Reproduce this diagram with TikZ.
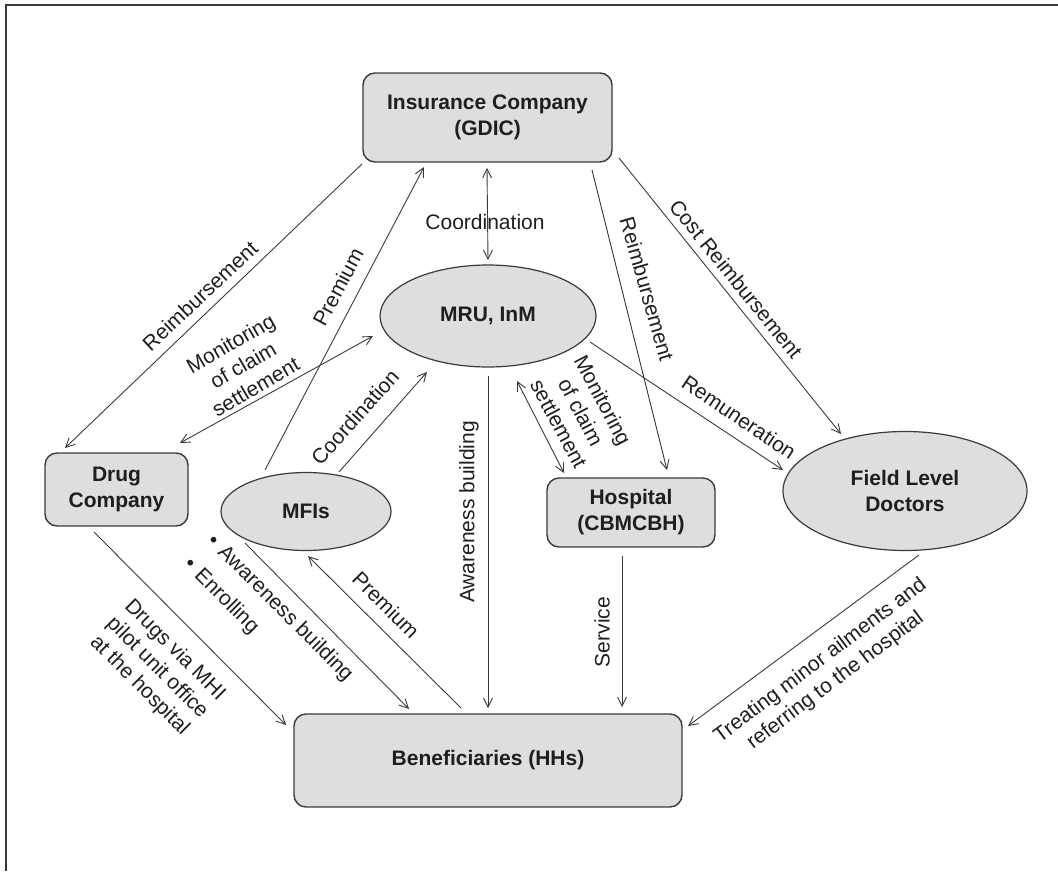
\documentclass[tikz,border=0pt]{standalone}
\usepackage{fontspec}
\setmainfont{Liberation Sans}
\usetikzlibrary{arrows.meta,shapes.geometric,calc}
\definecolor{boxfill}{HTML}{DDDEE0}
\definecolor{edge}{HTML}{3A3A3A}
\definecolor{ink}{HTML}{1E1E1E}
\tikzset{
  box/.style={draw=edge, line width=1.4pt, fill=boxfill, rounded corners=12pt, inner sep=0pt, align=center, text=ink, font=\fontsize{21}{26}\selectfont\bfseries},
  oval/.style={ellipse, draw=edge, line width=1.2pt, fill=boxfill, inner sep=0pt, align=center, text=ink, font=\fontsize{21}{26}\selectfont\bfseries},
  conn/.style={draw=edge, line width=0.9pt, -{Straight Barb[length=9pt,width=9pt]}},
  both/.style={draw=edge, line width=0.9pt, {Straight Barb[length=9pt,width=9pt]}-{Straight Barb[length=9pt,width=9pt]}},
  lbl/.style={align=center, inner sep=0pt, text=ink, font=\fontsize{21}{25}\selectfont},
  frame/.style={draw=edge, line width=2pt}
}
\begin{document}
\begin{tikzpicture}[x=1pt, y=-1pt]
\useasboundingbox (0,0) rectangle (1058,871);
% outer frame
\coordinate (fbl) at (6,871);
\coordinate (ftl) at (6,5);
\coordinate (ftr) at (1058,5);
\draw[frame] (fbl) -- (ftl) -- (ftr);

% nodes
\node[box, minimum width=249pt, minimum height=89pt] (ins) at (487.5,117.5) {Insurance Company\\(GDIC)};
\node[oval, minimum width=216pt, minimum height=102pt] (mru) at (488,316) {MRU, InM};
\node[box, minimum width=143pt, minimum height=73pt] (drug) at (116.5,489.5) {Drug\\Company};
\node[oval, minimum width=170pt, minimum height=78pt] (mfi) at (306,511.5) {MFIs};
\node[box, minimum width=168pt, minimum height=69pt] (hosp) at (631,512.5) {Hospital\\(CBMCBH)};
\node[oval, minimum width=244pt, minimum height=119pt] (fld) at (905,491) {Field Level\\Doctors};
\node[box, minimum width=388pt, minimum height=93pt] (ben) at (488,760.5) {Beneficiaries (HHs)};

% connectors
\draw[conn] ($(ins.center)+(-125.5,46.5)$) -- ($(drug.center)+(-51.5,-41.5)$);
\draw[conn] ($(mfi.center)+(-41,-41.5)$) -- ($(ins.center)+(-63.5,49.5)$);
\draw[both] ($(ins.center)+(-0.5,50.5)$) -- ($(mru.center)+(0,-56)$);
\draw[both] ($(mru.center)+(-115,20)$) -- ($(drug.center)+(63.5,-46.5)$);
\draw[conn] ($(mfi.center)+(33,-39.5)$) -- ($(mru.center)+(-61,56)$);
\draw[conn] ($(mru.center)+(0,60)$) -- ($(ben.center)+(0,-52.5)$);
\draw[both] ($(mru.center)+(29,65)$) -- ($(hosp.center)+(-67,-39.5)$);
\draw[conn] ($(ins.center)+(104.5,52.5)$) -- ($(hosp.center)+(36,-42.5)$);
\draw[conn] ($(ins.center)+(131.5,40.5)$) -- ($(fld.center)+(-64,-57)$);
\draw[conn] ($(mru.center)+(102,26)$) -- ($(fld.center)+(-122,-21)$);
\draw[conn] ($(drug.center)+(-22.5,42.5)$) -- ($(ben.center)+(-202,-35.5)$);
\draw[conn] ($(mfi.center)+(-61,31.5)$) -- ($(ben.center)+(-79,-51.5)$);
\draw[conn] ($(ben.center)+(-27,-52.5)$) -- ($(mfi.center)+(2,44.5)$);
\draw[conn] ($(hosp.center)+(-9,43.5)$) -- ($(ben.center)+(134,-53.5)$);
\draw[conn] ($(fld.center)+(14,64)$) -- ($(ben.center)+(200,-34.5)$);

% labels
\node[lbl, rotate=43] (l1) at (200,296) {Reimbursement};
\node[lbl, rotate=62] (l2) at (338,287) {Premium};
\node[lbl] (l3) at (485,222) {Coordination};
\node[lbl, rotate=30] (l4) at (243,365) {Monitoring\\of claim\\settlement};
\node[lbl, rotate=48] (l5) at (355,417) {Coordination};
\node[lbl, rotate=90] (l6) at (469,512) {Awareness building};
\node[lbl, rotate=-62] (l7) at (581,412) {Monitoring\\of claim\\settlement};
\node[lbl, rotate=-74] (l8) at (647,289) {Reimbursement};
\node[lbl, rotate=-51] (l9) at (736,279) {Cost Reimbursement};
\node[lbl, rotate=-34] (l10) at (739,417) {Remuneration};
\node[lbl, rotate=-45] (l11) at (157,668) {Drugs via MHI\\pilot unit office\\at the hospital};
\node[lbl, rotate=-45, align=left] (l12) at (268,620) {\textbullet\hspace{8pt}Awareness building\\[8pt]\textbullet\hspace{8pt}Enrolling};
\node[lbl, rotate=-45] (l13) at (386,605) {Premium};
\node[lbl, rotate=90] (l14) at (602,632) {Service};
\node[lbl, rotate=37] (l15) at (828,671) {Treating minor ailments and\\referring to the hospital};
\end{tikzpicture}
\end{document}
